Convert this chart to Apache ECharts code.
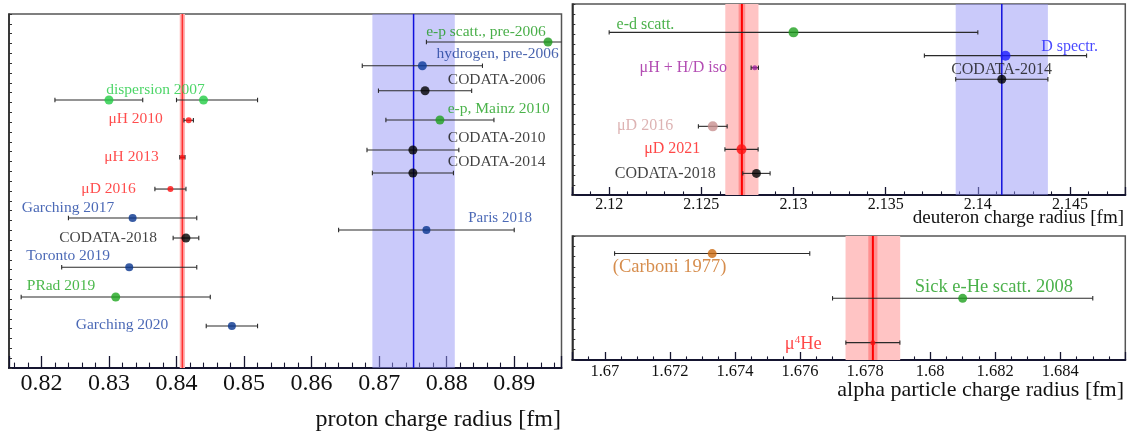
<!DOCTYPE html>
<html><head><meta charset="utf-8">
<script src="https://cdn.jsdelivr.net/npm/echarts@6/dist/echarts.min.js"></script>
<style>html,body{margin:0;padding:0;background:#fff}#c{width:1133px;height:436px}</style>
</head><body><div id="c"></div>
<script>
// ---------------- proton ----------------
const protonValues   = [0.8950, 0.8764, 0.8768, 0.8790, 0.8300, 0.8440, 0.8418, 0.84087, 0.8750, 0.8750, 0.8391, 0.8335, 0.8770, 0.8414, 0.8330, 0.8310, 0.8482];
const protonErrMinus = [0.018, 0.0089, 0.0069, 0.0080, 0.008, 0.004, 0.0007, 0.00039, 0.0068, 0.0060, 0.0023, 0.0095, 0.013, 0.0019, 0.010, 0.014, 0.0038];
const protonErrPlus  = [0.018, 0.0089, 0.0069, 0.0080, 0.005, 0.008, 0.0007, 0.00039, 0.0068, 0.0060, 0.0023, 0.0095, 0.013, 0.0019, 0.010, 0.014, 0.0038];
const protonRows     = [2.85, 5.26, 7.80, 10.78, 8.75, 8.75, 10.81, 14.57, 13.83, 16.17, 17.80, 20.75, 21.97, 22.78, 25.76, 28.78, 31.73];
const protonKinds    = ['epOld','hOld','codata','mainz','disp','disp','muH','muH2','codata','codata','muD','blue','paris','codata','blue','prad','blue'];
const protonLabels   = ['e-p scatt., pre-2006','hydrogen, pre-2006','CODATA-2006','e-p, Mainz 2010','CODATA-2010','CODATA-2014','Paris 2018','dispersion 2007','μH 2010','μH 2013','μD 2016','Garching 2017','CODATA-2018','Toronto 2019','PRad 2019','Garching 2020'];
const protonLabelAt  = [0.88582, 0.88753, 0.88741, 0.8877, 0.88741, 0.88741, 0.8879, 0.8369, 0.83394, 0.83333, 0.82994, 0.82394, 0.82987, 0.82397, 0.8229, 0.83194];
const protonLabelRow = [1.80, 4.10, 6.71, 9.63, 12.64, 15.08, 20.78, 7.73, 10.68, 14.51, 17.77, 19.76, 22.78, 24.61, 27.66, 31.66];
const protonLabelKinds = ['epOld','hOld','codata','mainz','codata','codata','paris','disp','muH','muH','muD','blue','codata','blue','prad','blue'];
const protonRedBand  = [0.84087, 0.00039];
const protonBlueBand = [0.8751, 0.0061];

// ---------------- deuteron ----------------
const deutValues   = [2.1300, 2.1279, 2.12562, 2.12718, 2.12799, 2.1415, 2.1413];
const deutErr      = [0.010, 0.0002, 0.00078, 0.0009, 0.00074, 0.0044, 0.0025];
const deutRows     = [2.82, 6.34, 12.17, 14.46, 16.85, 5.14, 7.49];
const deutKinds    = ['ed','muHD','muD16','muD21','codata','Dspec','codata'];
const deutLabels   = ['e-d scatt.','μH + H/D iso','μD 2016','μD 2021','CODATA-2018','D spectr.','CODATA-2014'];
const deutLabelAt  = [2.12197, 2.12402, 2.12195, 2.12342, 2.12304, 2.14498, 2.14129];
const deutLabelRow = [2.02, 6.34, 12.14, 14.36, 16.85, 4.25, 6.57];
const deutRedBand  = [2.1272, 0.0009, 0.00018];
const deutBlueBand = [2.1413, 0.0025];

// ---------------- alpha ----------------
const alphaValues   = [1.6733, 1.6810, 1.67824];
const alphaErr      = [0.0030, 0.0040, 0.00083];
const alphaRows     = [1.70, 6.03, 10.32];
const alphaKinds    = ['carboni','sick','muHe'];
const alphaLabels   = ['(Carboni 1977)','Sick e-He scatt. 2008','μ{sup|4}He'];
const alphaLabelAt  = [1.67199, 1.68196, 1.67667];
const alphaLabelRow = [3.0, 4.94, 10.42];
const alphaRedBand  = [1.67824, 0.00084, 0.00014];

const axisTitles = ['proton charge radius [fm]', 'deuteron charge radius [fm]', 'alpha particle charge radius [fm]'];

// ---------------- styles ----------------
const FONT = 'Liberation Serif';
const kindStyle = {
  epOld:{dot:'#1a9a1a', text:'#1a9a1a', size:9},
  hOld:{dot:'#0a3a9a', text:'#1a3c9a', size:9},
  codata:{dot:'#000000', text:'#111111', size:9},
  mainz:{dot:'#1ea01e', text:'#1ea01e', size:9},
  disp:{dot:'#22cc44', text:'#22cc44', size:9},
  muH:{dot:'#ff1010', text:'#ff2020', size:6},
  muH2:{dot:'#ff1010', text:'#ff2020', size:5},
  muD:{dot:'#ff1010', text:'#ff2020', size:6},
  blue:{dot:'#08358f', text:'#1e44a4', size:8},
  paris:{dot:'#08358f', text:'#1e44a4', size:8},
  prad:{dot:'#1ea61e', text:'#1ea61e', size:9},
  ed:{dot:'#1ea01e', text:'#1e9e1e', size:10},
  muHD:{dot:'#a020a0', text:'#a020a0', size:5},
  muD16:{dot:'#c89090', text:'#d4a0a0', size:10},
  muD21:{dot:'#ff1010', text:'#ff1a1a', size:10},
  Dspec:{dot:'#1a1aff', text:'#1a1aff', size:10},
  carboni:{dot:'#cc6a10', text:'#cc7020', size:9},
  sick:{dot:'#1ea01e', text:'#1e9e1e', size:9},
  muHe:{dot:'#ff1010', text:'#ff1a1a', size:5}
};

function bandSeries(gi, center, half, inner, fill, innerFill, lineColor, lineW){
  return {type:'custom', xAxisIndex:gi, yAxisIndex:gi, z:1, silent:true, clip:false,
    encode:{x:0, y:1},
    data:[[center, half, inner]],
    renderItem(params, api){
      const cs = params.coordSys;
      const c = api.value(0), h = api.value(1), ih = api.value(2);
      const x0 = api.coord([c-h, 0])[0], x1 = api.coord([c+h, 0])[0];
      const xc = api.coord([c, 0])[0];
      const ch = [{type:'rect', shape:{x:x0, y:cs.y, width:x1-x0, height:cs.height}, style:{fill:fill}}];
      if (ih > 0) {
        const a = api.coord([c-ih, 0])[0], b = api.coord([c+ih, 0])[0];
        ch.push({type:'rect', shape:{x:a, y:cs.y, width:b-a, height:cs.height}, style:{fill:innerFill}});
      }
      ch.push({type:'line', shape:{x1:xc, y1:cs.y, x2:xc, y2:cs.y+cs.height}, style:{stroke:lineColor, lineWidth:lineW}});
      return {type:'group', children:ch};
    }};
}

function errSeries(gi, vals, minus, plus, rows){
  const data = vals.map((v,i)=>[v-minus[i], v+plus[i], rows[i]]);
  return {type:'custom', xAxisIndex:gi, yAxisIndex:gi, z:3, silent:true,
    encode:{x:[0,1], y:2}, data,
    renderItem(params, api){
      const cs = params.coordSys;
      const p0 = api.coord([api.value(0), api.value(2)]);
      const p1 = api.coord([api.value(1), api.value(2)]);
      const xa = Math.max(p0[0], cs.x), xb = Math.min(p1[0], cs.x+cs.width);
      const y = p0[1], cap = 2.2;
      const st = {stroke:'#2a2a2a', lineWidth:1.1};
      const ch = [{type:'line', shape:{x1:xa, y1:y, x2:xb, y2:y}, style:st}];
      if (p0[0] >= cs.x) ch.push({type:'line', shape:{x1:p0[0], y1:y-cap, x2:p0[0], y2:y+cap}, style:st});
      if (p1[0] <= cs.x+cs.width) ch.push({type:'line', shape:{x1:p1[0], y1:y-cap, x2:p1[0], y2:y+cap}, style:st});
      return {type:'group', children:ch};
    }};
}

function dotSeries(gi, vals, rows, kinds){
  return {type:'scatter', xAxisIndex:gi, yAxisIndex:gi, z:4, silent:true,
    data: vals.map((v,i)=>({value:[v, rows[i]], symbolSize:kindStyle[kinds[i]].size, itemStyle:{color:kindStyle[kinds[i]].dot}}))};
}

function labelSeries(gi, names, xs, rows, kinds, fs, extra){
  return {type:'scatter', xAxisIndex:gi, yAxisIndex:gi, z:5, silent:true, symbolSize:1,
    itemStyle:{color:'rgba(0,0,0,0)'},
    data: names.map((n,i)=>{
      const lab = {show:true, position:'inside', formatter:n, color:kindStyle[kinds[i]].text,
        fontFamily:FONT, fontSize:(extra && extra[i] && extra[i].fs) || fs};
      if (extra && extra[i]) Object.assign(lab, extra[i].label || {});
      return {value:[xs[i], rows[i]], label:lab};
    })};
}

function xAxisCfg(gi, min, max, split, minorSplit, fs, margin, tickLen){
  return {type:'value', gridIndex:gi, position:'bottom', min, max, splitNumber:split, scale:true,
    axisLine:{show:true, onZero:false, lineStyle:{color:'#151530', width:2}},
    axisTick:{show:true, inside:true, length:tickLen, lineStyle:{color:'#151530', width:1.3}},
    minorTick:{show:true, splitNumber:minorSplit, length:tickLen*0.45, lineStyle:{color:'#151530', width:1.1}},
    splitLine:{show:false}, minorSplitLine:{show:false},
    axisLabel:{show:true, showMinLabel:false, showMaxLabel:false, fontFamily:FONT, fontSize:fs, color:'#111', margin}
  };
}
function yAxisCfg(gi, max){
  return {type:'value', gridIndex:gi, position:'left', min:0, max, interval:1, inverse:true,
    axisLine:{show:true, onZero:false, lineStyle:{color:'#222', width:1.5}},
    axisTick:{show:true, inside:true, length:3, lineStyle:{color:'#333', width:1}},
    axisLabel:{show:false}, splitLine:{show:false}};
}
function titleCfg(text, right, top, fs){
  return {text, right, top, padding:0, itemGap:0,
    textStyle:{fontFamily:FONT, fontSize:fs, lineHeight:fs, fontWeight:'normal', color:'#111'}};
}

const chart = echarts.init(document.getElementById('c'), null, {renderer:'canvas'});
chart.setOption({
  animation:false,
  backgroundColor:'#ffffff',
  title:[
    titleCfg(axisTitles[0], 572, 408, 24),
    titleCfg(axisTitles[1], 9, 209, 19),
    titleCfg(axisTitles[2], 9, 379, 22)
  ],
  grid:[
    {left:9, top:14, width:552.5, height:354, show:true, borderColor:'#555', borderWidth:1.5, backgroundColor:'transparent', outerBoundsMode:'none', containLabel:false},
    {left:572.3, top:4, width:553, height:191, show:true, borderColor:'#555', borderWidth:1.5, backgroundColor:'transparent', outerBoundsMode:'none', containLabel:false},
    {left:572.3, top:236, width:553, height:124, show:true, borderColor:'#555', borderWidth:1.5, backgroundColor:'transparent', outerBoundsMode:'none', containLabel:false}
  ],
  xAxis:[
    xAxisCfg(0, 0.8152, 0.897, 8, 5, 24, 4, 12),
    xAxisCfg(1, 2.118, 2.148, 6, 5, 16, 2, 8),
    xAxisCfg(2, 1.669, 1.686, 8, 4, 16.5, 3, 8)
  ],
  yAxis:[yAxisCfg(0, 36), yAxisCfg(1, 19), yAxisCfg(2, 12)],
  series:[
    bandSeries(0, protonBlueBand[0], protonBlueBand[1], 0, 'rgba(150,150,245,0.5)', null, '#1010dd', 1.5),
    bandSeries(0, protonRedBand[0], protonRedBand[1], 0, '#ffb4b4', null, '#ff3030', 1.6),
    errSeries(0, protonValues, protonErrMinus, protonErrPlus, protonRows),
    dotSeries(0, protonValues, protonRows, protonKinds),
    labelSeries(0, protonLabels, protonLabelAt, protonLabelRow, protonLabelKinds, 15.5, {6:{fs:15}}),

    bandSeries(1, deutBlueBand[0], deutBlueBand[1], 0, 'rgba(150,150,245,0.5)', null, '#1010dd', 1.5),
    bandSeries(1, deutRedBand[0], deutRedBand[1], deutRedBand[2], '#ffc4c4', '#ff9090', '#ff0000', 2),
    errSeries(1, deutValues, deutErr, deutErr, deutRows),
    dotSeries(1, deutValues, deutRows, deutKinds),
    labelSeries(1, deutLabels, deutLabelAt, deutLabelRow, deutKinds, 16),

    bandSeries(2, alphaRedBand[0], alphaRedBand[1], alphaRedBand[2], '#ffc4c4', '#ff9090', '#ff0000', 2),
    errSeries(2, alphaValues, alphaErr, alphaErr, alphaRows),
    dotSeries(2, alphaValues, alphaRows, alphaKinds),
    labelSeries(2, alphaLabels, alphaLabelAt, alphaLabelRow, alphaKinds, 18.5,
      {2:{label:{align:'right', rich:{sup:{fontSize:11, fontFamily:FONT, color:'#ff1a1a', verticalAlign:'top', padding:[0,0,8,0]}}}}})
  ]
});
</script></body></html>
